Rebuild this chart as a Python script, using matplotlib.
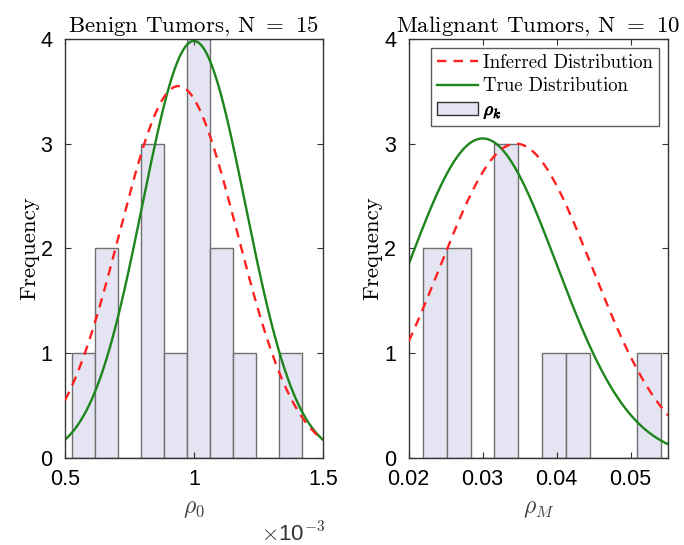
import numpy as np
import matplotlib
matplotlib.use("Agg")
import matplotlib.pyplot as plt
import matplotlib.patheffects as pe
from matplotlib.patches import Patch
from matplotlib.lines import Line2D

plt.rcParams['mathtext.fontset'] = 'cm'
plt.rcParams['axes.unicode_minus'] = False

# benign tumours, rho_0 in units of 1e-3
benign_edges = [0.526, 0.6154, 0.7048, 0.7942, 0.8836, 0.973, 1.0624, 1.1518, 1.2412, 1.3306, 1.42]
benign_counts = [1, 2, 0, 3, 1, 4, 2, 1, 0, 1]
benign_inferred = dict(mu=0.94, sigma=0.228, peak=3.55)
benign_true = dict(mu=1.0, sigma=0.2, peak=3.98)

# malignant tumours, rho_M
malig_edges = [0.02193, 0.02515, 0.02837, 0.03159, 0.03481, 0.03803, 0.04125, 0.04447, 0.04769, 0.05091, 0.05413]
malig_counts = [2, 2, 0, 3, 0, 1, 1, 0, 0, 1]
malig_inferred = dict(mu=0.0345, sigma=0.0103, peak=3.0)
malig_true = dict(mu=0.030, sigma=0.0100, peak=3.05)

bar_face = '#e4e4f2'
bar_edge = '#707070'
red = '#ff2020'
green = '#1c851c'
serif = 'cmr10'
sans = 'Liberation Sans'


def gauss(x, p):
    return p['peak'] * np.exp(-(x - p['mu']) ** 2 / (2 * p['sigma'] ** 2))


def panel(ax, edges, counts, inferred, true, xlim, xticks, xticklabels, title, xlabel):
    edges = np.array(edges)
    ax.bar(edges[:-1], counts, width=np.diff(edges), align='edge',
           color=bar_face, edgecolor=bar_edge, linewidth=1.0, zorder=1)
    x = np.linspace(xlim[0], xlim[1], 400)
    ax.plot(x, gauss(x, inferred), '--', color=red, lw=1.7, dashes=(4, 3), zorder=3)
    ax.plot(x, gauss(x, true), '-', color=green, lw=1.7, zorder=2)
    ax.set_xlim(xlim)
    ax.set_ylim(0, 4)
    ax.set_xticks(xticks)
    ax.set_xticklabels(xticklabels, fontfamily=sans, fontsize=15.5)
    ax.set_yticks([0, 1, 2, 3, 4])
    ax.set_yticklabels(['0', '1', '2', '3', '4'], fontfamily=sans, fontsize=15.5)
    ax.tick_params(direction='in', top=True, right=True, length=4, width=0.8,
                   color='#333333')
    ax.tick_params(axis='x', pad=8)
    ax.tick_params(axis='y', pad=9)
    for s in ax.spines.values():
        s.set_color('#333333')
        s.set_linewidth(1.0)
    ax.set_title(title, fontfamily=serif, fontsize=16.5, pad=5)
    ax.set_xlabel(xlabel, fontsize=17, color='#444444', labelpad=4)
    ax.set_ylabel('Frequency', fontfamily=serif, fontsize=16.5, labelpad=1)


fig = plt.figure(figsize=(6.84, 5.45), dpi=100)
ax1 = fig.add_axes([0.095, 0.1596, 0.377, 0.769])
ax2 = fig.add_axes([0.5975, 0.1596, 0.3795, 0.769])

panel(ax1, benign_edges, benign_counts, benign_inferred, benign_true,
      (0.5, 1.5), [0.5, 1.0, 1.5], ['0.5', '1', '1.5'],
      r'Benign Tumors, N $=$ 15', r'$\rho_0$')
ax1.text(1.01, -0.198, r'$\times$10$^{\mathsf{-3}}$', transform=ax1.transAxes,
         ha='right', va='baseline', fontfamily=sans, fontsize=16, color='#333333')

panel(ax2, malig_edges, malig_counts, malig_inferred, malig_true,
      (0.02, 0.0551), [0.02, 0.03, 0.04, 0.05], ['0.02', '0.03', '0.04', '0.05'],
      r'Malignant Tumors, N $=$ 10', r'$\rho_M$')

handles = [Line2D([], [], color=red, ls='--', lw=1.7, dashes=(4, 3)),
           Line2D([], [], color=green, lw=1.7),
           Patch(facecolor=bar_face, edgecolor='#333333', linewidth=1.0)]
labels = ['Inferred Distribution', 'True Distribution', r'$\rho_k$']
leg = ax2.legend(handles, labels, loc='upper right', prop={'family': serif, 'size': 13.5},
                 frameon=True, fancybox=False, edgecolor='#333333',
                 handlelength=2.2, handletextpad=0.3, borderpad=0.3,
                 labelspacing=0.3, borderaxespad=0.5)
leg.get_frame().set_linewidth(1.0)
leg.get_texts()[2].set_path_effects([pe.withStroke(linewidth=0.6, foreground='black')])

fig.savefig('out.png', dpi=100)
